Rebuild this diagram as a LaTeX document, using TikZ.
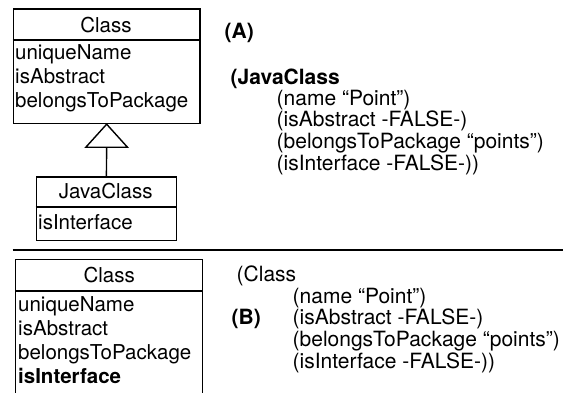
\documentclass[tikz,border=0pt]{standalone}
\usepackage{fontspec}
\setmainfont{TeX Gyre Heros}
\begin{document}
\begin{tikzpicture}[x=1pt,y=-1pt,line width=1.4pt,
  box/.style={draw,rectangle,inner sep=0pt,anchor=north west},
  txt/.style={anchor=base west,inner sep=0pt,font=\fontsize{20.5}{23}\selectfont},
  ctxt/.style={anchor=base,inner sep=0pt,font=\fontsize{20.5}{23}\selectfont},
  rtxt/.style={anchor=base west,inner sep=0pt,font=\fontsize{21}{22}\selectfont},
  rbold/.style={anchor=base west,inner sep=0pt,font=\fontsize{21}{22}\selectfont\bfseries}]
\useasboundingbox (0,0) rectangle (565,392);
% ---------- (A) ----------
\node[box,minimum width=186.5pt,minimum height=114.5pt] (cls) at (12.7,8.3) {};
\draw (cls.west |- 0,40) -- (cls.east |- 0,40);
\node[ctxt] (clsname) at (105.9,32) {Class};
\node[txt] (a1) at (14.5,59) {uniqueName};
\node[txt] (a2) at (14.5,83) {isAbstract};
\node[txt] (a3) at (14.5,107) {belongsToPackage};
\node[box,minimum width=140pt,minimum height=63.5pt] (jc) at (35.7,176.2) {};
\draw (jc.west |- 0,207) -- (jc.east |- 0,207);
\node[ctxt] (jcname) at (105.7,198) {JavaClass};
\node[txt] (j1) at (37.5,229) {isInterface};
\coordinate (tribase) at ([yshift=-23pt]cls.south);
\draw (cls.south) -- ([xshift=-20.8pt]tribase) -- ([xshift=20.8pt]tribase) -- cycle;
\draw (jc.north) -- (tribase);
\node[rbold] (lA) at (224,38.5) {(A)};
\node[rbold] (r0) at (230,84) {(JavaClass};
\node[rtxt] (r1) at (276,105) {(name “Point”)};
\node[rtxt] (r2) at (276,126.5) {(isAbstract -FALSE-)};
\node[rtxt] (r3) at (276,148) {(belongsToPackage “points”)};
\node[rtxt] (r4) at (276,170) {(isInterface -FALSE-))};
% ---------- separator ----------
\coordinate (hl) at (12.7,250);
\coordinate (hr) at (563,250);
\draw (hl) -- (hr);
% ---------- (B) ----------
\coordinate (bnw) at (15.7,259.5);
\coordinate (bne) at (202.7,259.5);
\coordinate (bsw) at (15.7,393);
\coordinate (bse) at (202.7,393);
\draw (bsw) -- (bnw) -- (bne) -- (bse);
\draw (15.7,291) -- (202.7,291);
\node[ctxt] (bname) at (109.2,282.5) {Class};
\node[txt] (b1) at (17.5,311.5) {uniqueName};
\node[txt] (b2) at (17.5,335) {isAbstract};
\node[txt] (b3) at (17.5,359) {belongsToPackage};
\node[txt,font=\fontsize{20.5}{23}\selectfont\bfseries] (b4) at (17.5,383) {isInterface};
\node[rtxt] (s0) at (236,281) {(Class};
\node[rbold] (lB) at (231,324) {(B)};
\node[rtxt] (s1) at (292,303) {(name “Point”)};
\node[rtxt] (s2) at (292,324) {(isAbstract -FALSE-)};
\node[rtxt] (s3) at (292,346) {(belongsToPackage “points”)};
\node[rtxt] (s4) at (292,368) {(isInterface -FALSE-))};
\end{tikzpicture}
\end{document}
